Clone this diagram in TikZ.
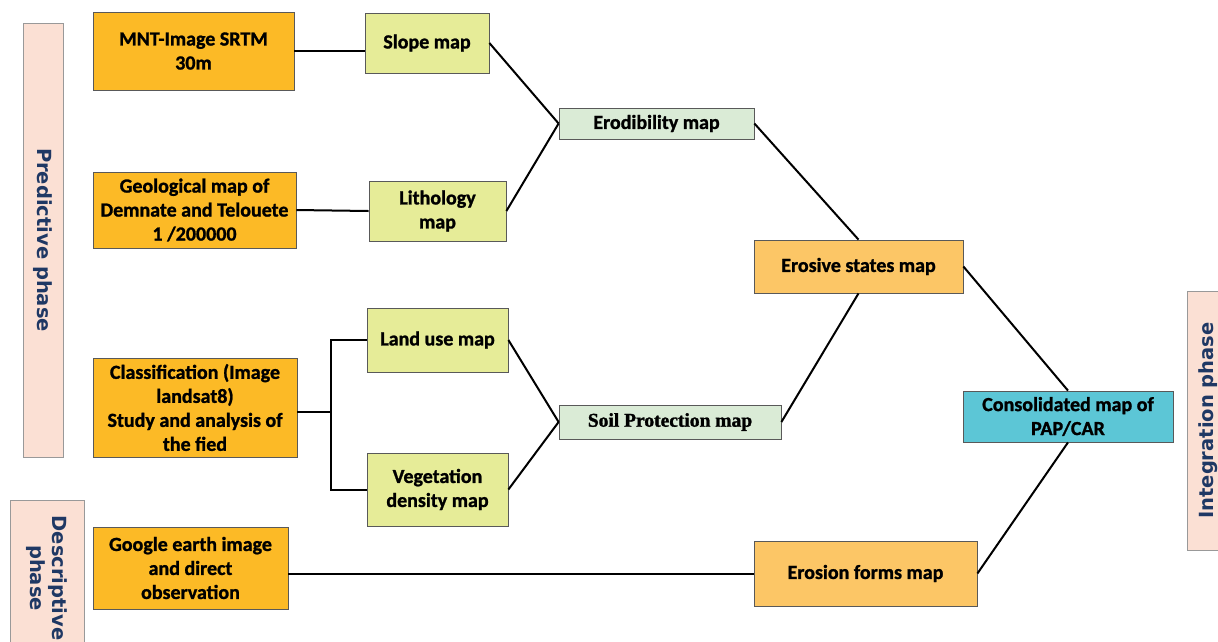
\documentclass[tikz,border=0pt]{standalone}
\usepackage{fontspec}
\setmainfont{Carlito}[BoldFeatures={FakeBold=1.2}]
\newfontfamily\phasefont{DejaVu Sans Bold}
\newfontfamily\timesbold{Liberation Serif}[BoldFeatures={FakeBold=1.5}]
\usetikzlibrary{calc}
\definecolor{inputgold}{RGB}{252,186,38}
\definecolor{layerlime}{RGB}{230,236,152}
\definecolor{mapmint}{RGB}{218,235,214}
\definecolor{statepeach}{RGB}{252,198,102}
\definecolor{finalcyan}{RGB}{92,198,214}
\definecolor{phasepink}{RGB}{251,224,212}
\definecolor{phaseblue}{RGB}{31,56,100}

\begin{document}
\begin{tikzpicture}[x=1pt, y=-1pt,
  box/.style={draw=black!65, line width=0.8pt, align=center, inner sep=2pt,
    font=\bfseries\fontsize{20}{24}\selectfont},
  source/.style={box, fill=inputgold},
  layer/.style={box, fill=layerlime},
  derived/.style={box, fill=mapmint},
  result/.style={box, fill=statepeach},
  final/.style={box, fill=finalcyan},
  phase/.style={draw=black!40, line width=0.8pt, fill=phasepink, text=phaseblue, align=center,
    font=\phasefont\fontsize{19.5}{22}\selectfont},
  link/.style={line width=2pt}]
\useasboundingbox (0,0) rectangle (1218,641);

\node[phase, rotate=-90, minimum width=434pt, minimum height=40pt] (predictive) at (43, 240) {Predictive phase};
\node[phase, rotate=-90, minimum width=156pt, minimum height=74pt] (descriptive) at (47, 578) {Descriptive\\phase};
\node[phase, rotate=90, minimum width=259pt, minimum height=42pt] (integration) at (1208, 420.5) {Integration phase};

\node[source, minimum width=201pt, minimum height=78pt] (mnt) at (193.5, 51) {MNT-Image SRTM\\30m};
\node[source, minimum width=203pt, minimum height=76pt] (geol) at (194.5, 210) {Geological map of\\Demnate and Telouete\\1 /200000};
\node[source, minimum width=204pt, minimum height=99pt] (classif) at (195, 407.5) {Classification (Image\\landsat8)\\Study and analysis of\\the fied};
\node[source, minimum width=195pt, minimum height=82pt] (google) at (190.5, 568) {Google earth image\\and direct\\observation};

\node[layer, minimum width=124pt, minimum height=60pt] (slope) at (427, 43) {Slope map};
\node[layer, minimum width=137pt, minimum height=60pt] (litho) at (437.5, 211) {Lithology\\map};
\node[layer, minimum width=141pt, minimum height=64pt] (landuse) at (437.5, 340) {Land use map};
\node[layer, minimum width=141pt, minimum height=73pt] (vegdens) at (437.5, 489.5) {Vegetation\\density map};

\node[derived, minimum width=195pt, minimum height=31pt] (erod) at (656.5, 123.5) {Erodibility map};
\node[derived, minimum width=222pt, minimum height=34pt, font=\timesbold\bfseries\fontsize{19.5}{21}\selectfont] (soilprot) at (670, 422) {Soil Protection map};

\node[result, minimum width=209pt, minimum height=53pt] (erosive) at (858.5, 266.5) {Erosive states map};
\node[result, minimum width=223pt, minimum height=65pt] (forms) at (865.5, 573.5) {Erosion forms map};
\node[final, minimum width=210pt, minimum height=51pt] (consol) at (1068, 416.5) {Consolidated map of\\PAP/CAR};

\coordinate (fork) at (331, 412);

\draw[link] (mnt.east) -- (mnt.east -| slope.west);
\draw[link] (geol.east) -- (litho.west);
\draw[link] (classif.east |- fork) -- (fork);
\draw[link] (landuse.west) -| (fork) |- (vegdens.west);
\draw[link] (google.east |- forms.west) -- (forms.west);
\draw[link] (slope.east) -- (erod.west);
\draw[link] (litho.east) -- (erod.west);
\draw[link] (landuse.east) -- (soilprot.west);
\draw[link] (vegdens.east) -- (soilprot.west);
\draw[link] (erod.east) -- (erosive.north);
\draw[link] (soilprot.east) -- (erosive.south);
\draw[link] (erosive.east) -- (consol.north);
\draw[link] (forms.east) -- (consol.south);
\end{tikzpicture}
\end{document}
